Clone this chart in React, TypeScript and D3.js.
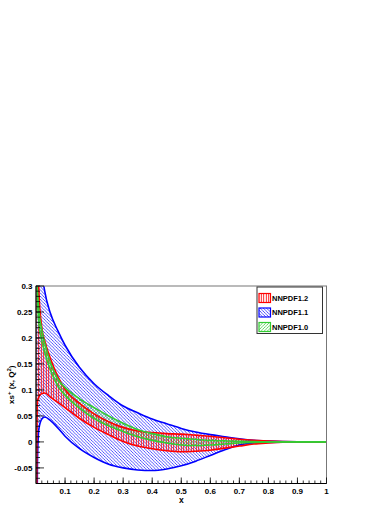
import React from 'react';
import * as d3 from 'd3';

// sampling points in x
const xGrid = [0.001, 0.003, 0.005, 0.01, 0.02, 0.03, 0.05, 0.075, 0.1, 0.15, 0.2, 0.25, 0.3, 0.35, 0.4, 0.45, 0.5, 0.55, 0.6, 0.65, 0.7, 0.75, 0.8, 0.85, 0.9, 0.95, 1.0];

// NNPDF1.2 band (red)
const nnpdf12Lo = [-0.8, 0.0, 0.077, 0.087, 0.093, 0.094, 0.086, 0.076, 0.066, 0.045, 0.028, 0.014, 0.001, -0.008, -0.013, -0.017, -0.019, -0.018, -0.016, -0.012, -0.008, -0.004, -0.002, -0.0006, -0.0001, 0, 0];
const nnpdf12Hi = [1.2, 0.6, 0.4, 0.29, 0.22, 0.195, 0.16, 0.126, 0.101, 0.074, 0.054, 0.039, 0.028, 0.021, 0.018, 0.016, 0.015, 0.013, 0.011, 0.008, 0.005, 0.003, 0.0015, 0.0005, 0.0001, 0, 0];

// NNPDF1.1 band (blue)
const nnpdf11Lo = [-0.6, -0.2, -0.04, 0.025, 0.044, 0.048, 0.041, 0.027, 0.011, -0.013, -0.03, -0.043, -0.05, -0.054, -0.055, -0.052, -0.046, -0.037, -0.026, -0.015, -0.006, -0.002, -0.001, -0.0003, 0, 0, 0];
const nnpdf11Hi = [0.95, 0.7, 0.55, 0.42, 0.33, 0.29, 0.247, 0.214, 0.186, 0.143, 0.112, 0.089, 0.069, 0.056, 0.044, 0.035, 0.026, 0.019, 0.014, 0.01, 0.006, 0.003, 0.0015, 0.0005, 0.0001, 0, 0];

// NNPDF1.0 band (green)
const nnpdf10Lo = [0.32, 0.29, 0.27, 0.228, 0.195, 0.172, 0.138, 0.108, 0.09, 0.065, 0.045, 0.031, 0.02, 0.01, 0.003, -0.002, -0.006, -0.007, -0.006, -0.004, -0.002, -0.001, -0.0004, 0, 0, 0, 0];
const nnpdf10Hi = [0.34, 0.31, 0.29, 0.252, 0.215, 0.19, 0.152, 0.121, 0.105, 0.083, 0.066, 0.05, 0.036, 0.024, 0.016, 0.01, 0.007, 0.005, 0.003, 0.002, 0.001, 0.0005, 0.0002, 0, 0, 0, 0];

const legendLabels = ['NNPDF1.2', 'NNPDF1.1', 'NNPDF1.0'];

const xTickValues = [0.1, 0.2, 0.3, 0.4, 0.5, 0.6, 0.7, 0.8, 0.9, 1];
const xTickLabels = ['0.1', '0.2', '0.3', '0.4', '0.5', '0.6', '0.7', '0.8', '0.9', '1'];
const yTickValues = [-0.05, 0, 0.05, 0.1, 0.15, 0.2, 0.25, 0.3];
const yTickLabels = ['-0.05', '0', '0.05', '0.1', '0.15', '0.2', '0.25', '0.3'];

const FONT = '"Liberation Sans", Arial, Helvetica, sans-serif';

export default function App() {
  const width = 392;
  const height = 508;
  const margin = { top: 286, right: 65.5, bottom: 24.5, left: 36 };
  const left = margin.left;
  const right = width - margin.right;
  const top = margin.top;
  const bottom = height - margin.bottom;

  const x = d3.scaleLinear().domain([0, 1]).range([left, right]);
  const y = d3.scaleLinear().domain([-0.08, 0.3]).range([bottom, top]);

  const areaOf = (lo: number[], hi: number[]) =>
    d3.area<number>()
      .x((d) => x(d))
      .y0((d, i) => y(lo[i]))
      .y1((d, i) => y(hi[i]))
      .curve(d3.curveMonotoneX)(xGrid) || '';

  const lineOf = (vals: number[]) =>
    d3.line<number>()
      .x((d) => x(d))
      .y((d, i) => y(vals[i]))
      .curve(d3.curveMonotoneX)(xGrid) || '';

  // draw order: blue, red, green
  const bands = [
    { lo: nnpdf11Lo, hi: nnpdf11Hi, color: '#0000ff', pat: 'url(#hatchBlue)' },
    { lo: nnpdf12Lo, hi: nnpdf12Hi, color: '#ff0000', pat: 'url(#hatchRed)' },
    { lo: nnpdf10Lo, hi: nnpdf10Hi, color: '#33cc33', pat: 'url(#hatchGreen)' },
  ];

  const legendItems = [
    { label: legendLabels[0], color: '#ff0000', pat: 'url(#hatchRed)' },
    { label: legendLabels[1], color: '#0000ff', pat: 'url(#hatchBlue)' },
    { label: legendLabels[2], color: '#33cc33', pat: 'url(#hatchGreen)' },
  ];

  const xMinor = d3.range(0, 50).map((i) => i * 0.02).filter((v) => v > 0);
  const yMinor = d3.range(-8, 31).map((i) => i * 0.01);

  return (
    <svg
      width={width}
      height={height}
      style={{ position: 'absolute', left: 0, top: 0, background: '#fff' }}
      fontFamily={FONT}
    >
      <defs>
        <clipPath id="plotClip">
          <rect x={left} y={top} width={right - left} height={bottom - top} />
        </clipPath>
        <pattern id="hatchBlue" patternUnits="userSpaceOnUse" width={3.2} height={3.2}>
          <path d="M-1,-1 L4.2,4.2 M-1,2.2 L1,4.2 M2.2,-1 L4.2,1" stroke="#1a1aff" strokeWidth={0.75} />
        </pattern>
        <pattern id="hatchGreen" patternUnits="userSpaceOnUse" width={3.2} height={3.2}>
          <path d="M-1,4.2 L4.2,-1 M-1,1 L1,-1 M2.2,4.2 L4.2,2.2" stroke="#33cc33" strokeWidth={0.75} />
        </pattern>
        <pattern id="hatchRed" patternUnits="userSpaceOnUse" width={2.5} height={2.5}>
          <path d="M1.25,0 L1.25,2.5" stroke="#ff0000" strokeWidth={0.9} />
        </pattern>
      </defs>

      <rect x={left} y={top} width={right - left} height={bottom - top} fill="#fff" />

      <g clipPath="url(#plotClip)">
        {bands.map((b, i) => (
          <path key={'f' + i} d={areaOf(b.lo, b.hi)} fill={b.pat} stroke="none" />
        ))}
        {bands.map((b, i) => (
          <g key={'l' + i}>
            <path d={lineOf(b.lo)} fill="none" stroke={b.color} strokeWidth={1.6} />
            <path d={lineOf(b.hi)} fill="none" stroke={b.color} strokeWidth={1.6} />
          </g>
        ))}
      </g>

      {/* frame */}
      <rect x={left} y={top} width={right - left} height={bottom - top} fill="none" stroke="#777" strokeWidth={1} />

      {/* x axis */}
      <line x1={left} x2={right} y1={bottom} y2={bottom} stroke="#000" strokeWidth={1} />
      {xMinor.map((v, i) => (
        <line key={'xm' + i} x1={x(v)} x2={x(v)} y1={bottom} y2={bottom - 3} stroke="#000" strokeWidth={0.8} />
      ))}
      {xTickValues.map((v, i) => (
        <g key={'xt' + i}>
          <line x1={x(v)} x2={x(v)} y1={bottom} y2={bottom - 6} stroke="#000" strokeWidth={0.8} />
          <text x={x(v)} y={bottom + 10} textAnchor="middle" fontSize={8} fontWeight="bold">
            {xTickLabels[i]}
          </text>
        </g>
      ))}
      <text x={(left + right) / 2} y={bottom + 19} textAnchor="middle" fontSize={8.5} fontWeight="bold">x</text>

      {/* y axis */}
      <line x1={left} x2={left} y1={top} y2={bottom} stroke="#000" strokeWidth={1} />
      {yMinor.map((v, i) => (
        <line key={'ym' + i} x1={left} x2={left + 4} y1={y(v)} y2={y(v)} stroke="#000" strokeWidth={0.8} />
      ))}
      {yTickValues.map((v, i) => (
        <g key={'yt' + i}>
          <line x1={left} x2={left + 8} y1={y(v)} y2={y(v)} stroke="#000" strokeWidth={0.8} />
          <text x={left - 3.5} y={y(v)} dy="0.35em" textAnchor="end" fontSize={8} fontWeight="bold">
            {yTickLabels[i]}
          </text>
        </g>
      ))}
      <text
        transform={`translate(14,${(top + bottom) / 2}) rotate(-90)`}
        textAnchor="middle"
        fontSize={8}
        fontWeight="bold"
      >
        xs<tspan dy={-3} fontSize={6}>+</tspan>
        <tspan dy={3}> (x, Q</tspan>
        <tspan dy={-3} fontSize={6}>2</tspan>
        <tspan dy={3}>)</tspan>
      </text>

      {/* legend */}
      <g>
        <rect x={257} y={287} width={65.5} height={46.5} fill="#fff" stroke="#333" strokeWidth={1} />
        {legendItems.map((d, i) => {
          const cy = 298 + i * 14.5;
          return (
            <g key={'lg' + i}>
              <rect x={259} y={cy - 4.5} width={11.5} height={9} fill="#fff" />
              <rect x={259} y={cy - 4.5} width={11.5} height={9} fill={d.pat} stroke={d.color} strokeWidth={1.2} />
              <text x={272} y={cy} dy="0.35em" fontSize={7.5} fontWeight="bold">{d.label}</text>
            </g>
          );
        })}
      </g>
    </svg>
  );
}
